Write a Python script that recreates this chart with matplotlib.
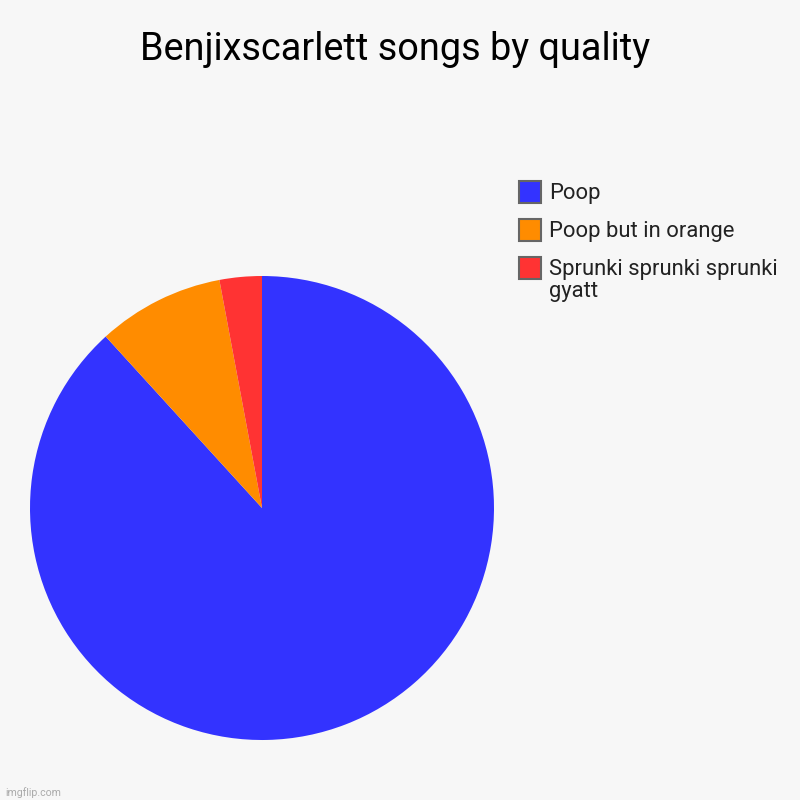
import matplotlib.pyplot as plt
from matplotlib.patches import Rectangle

plt.rcParams['font.family'] = ['Roboto', 'DejaVu Sans']

# chart data
labels = ['Poop', 'Poop but in orange', 'Sprunki sprunki sprunki\ngyatt']
values = [30, 3, 1]
colors = ['#3333ff', '#ff8c00', '#ff3333']

bg = '#f7f7f7'
W = 800.0


def fx(px):
    return px / W


def fy(py):
    return 1 - py / W


fig = plt.figure(figsize=(8, 8), dpi=100, facecolor=bg)

# pie occupies x 30..494, y 276..740 (pixels)
ax = fig.add_axes([fx(30), fx(60), fx(464), fx(464)])
ax.set_facecolor(bg)
ax.pie(values, colors=colors, startangle=90, counterclock=False,
       wedgeprops={'linewidth': 0})
ax.set_aspect('equal')
ax.set_xlim(-1, 1)
ax.set_ylim(-1, 1)
ax.axis('off')

fig.text(fx(395), fy(60), 'Benjixscarlett songs by quality',
         ha='center', va='baseline', fontsize=27.3, color='#000000')

# legend drawn by hand so the box sits on the first line of a wrapped label
box = 22
row_y = 192
for lab, col in zip(labels, colors):
    fig.patches.append(Rectangle((fx(519), fy(row_y + box / 2)), fx(box), fx(box),
                                 transform=fig.transFigure, facecolor=col,
                                 edgecolor='#666666', linewidth=1.5))
    lines = lab.split('\n')
    for j, line in enumerate(lines):
        fig.text(fx(549), fy(row_y + 7 + j * 22), line, ha='left', va='baseline',
                 fontsize=15.8, color='#222222')
    row_y += 38

fig.text(fx(5), fy(796), 'imgflip.com', ha='left', va='baseline',
         fontsize=7.6, color='#aaaaaa')

fig.savefig('out.png', dpi=100, facecolor=bg)
